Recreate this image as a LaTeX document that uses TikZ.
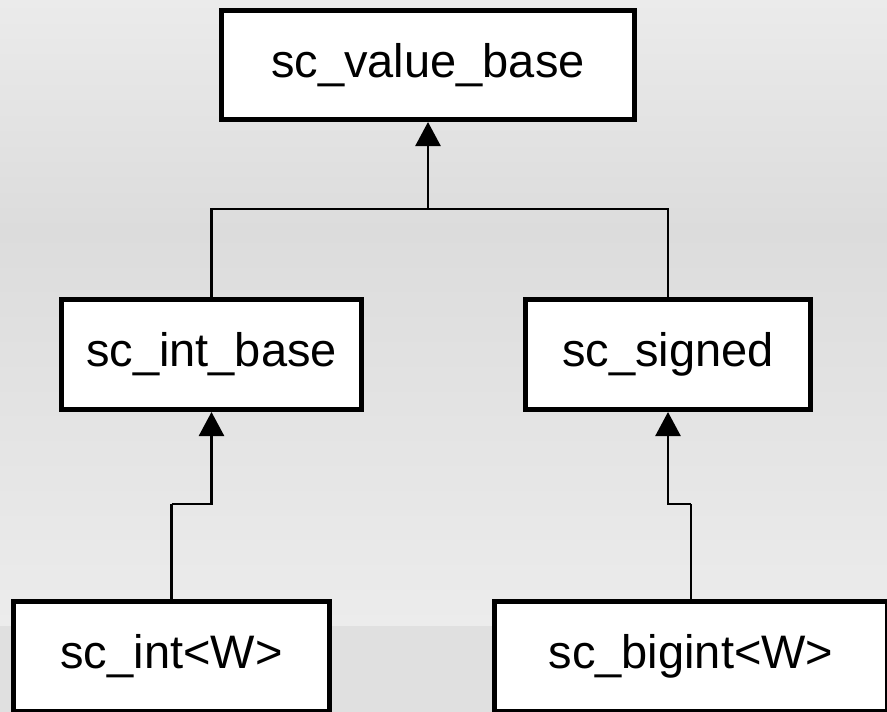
\documentclass[tikz,border=0pt]{standalone}
\usepackage{fontspec}
\setmainfont{Liberation Sans}
\usetikzlibrary{arrows.meta}
\definecolor{bgA}{HTML}{E0E0E0}
\definecolor{bgB}{HTML}{ECECEC}
\definecolor{bgC}{HTML}{DCDCDC}
\definecolor{bgD}{HTML}{EBEBEB}
\tikzset{
  classbox/.style={draw=black, fill=white, line width=5pt, rectangle, inner sep=0pt,
    minimum height=110pt, font=\fontsize{47}{56}\selectfont},
  inherit/.style={draw=black, line width=2.5pt, -{Triangle[width=25pt,length=24pt]}},
  link/.style={draw=black, line width=2.5pt}
}
\begin{document}
\begin{tikzpicture}[x=1pt,y=-1pt]
\useasboundingbox (0,0) rectangle (887,712);
\clip (0,0) rectangle (887,712);
\shade[top color=bgD, bottom color=bgC] (0,0) rectangle (887,230.5);
\shade[top color=bgC, bottom color=bgB] (0,230) rectangle (887,626.5);
\fill[bgA] (0,626) rectangle (887,712);

\node[classbox, minimum width=413pt, minimum height=109pt] (top) at (428,65) {sc\_value\_base};
\node[classbox, minimum width=300pt] (midL) at (211.5,354.5) {sc\_int\_base};
\node[classbox, minimum width=285pt] (midR) at (668,354.5) {sc\_signed};
\node[classbox, minimum width=316pt] (botL) at (171.5,656) {sc\_int<W>};
\node[classbox, minimum width=393pt] (botR) at (691,656) {sc\_bigint<W>};

\coordinate (j) at (428,209);
\draw[link] (midL.north) -- (midL.north |- j) -- (midR.north |- j) -- (midR.north);
\draw[inherit] (j) -- (top.south);

\coordinate (kL) at (171.5,504);
\coordinate (kR) at (691,504);
\draw[link] (botL.north) -- (kL);
\draw[inherit] (kL) -| (midL.south);
\draw[link] (botR.north) -- (kR);
\draw[inherit] (kR) -| (midR.south);
\end{tikzpicture}
\end{document}
